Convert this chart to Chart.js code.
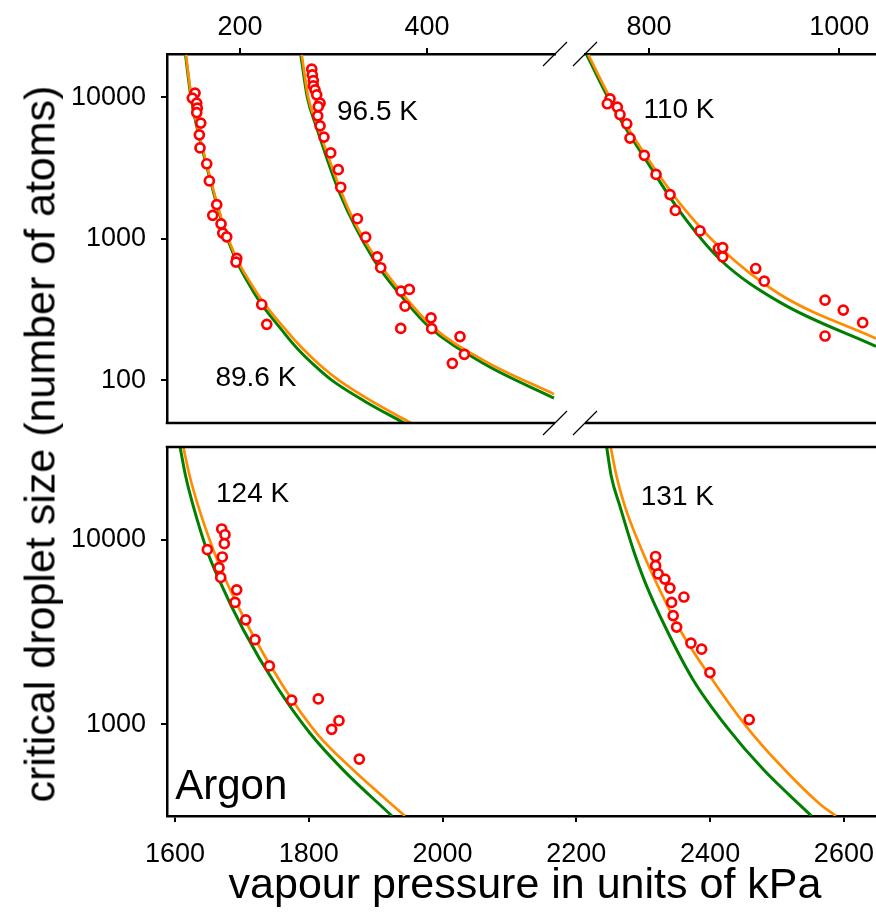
<!DOCTYPE html>
<html>
<head>
<meta charset="utf-8">
<script src="https://cdn.jsdelivr.net/npm/chart.js"></script>
<style>
  html, body { margin: 0; padding: 0; background: #fff; }
  #wrap { position: relative; width: 876px; height: 912px; overflow: hidden; font-family: 'Liberation Sans', Arial, sans-serif; }
  canvas { position: absolute; left: 0; }
  #topChart { top: 0; }
  #bottomChart { top: 430px; }
  .title { position: absolute; font-size: 43px; line-height: 43px; white-space: nowrap; color: #000; }
  #xTitle { left: 525px; top: 862px; transform: translateX(-50%); }
  #yTitle { left: 40px; top: 444px; transform: translate(-50%, -50%) rotate(-90deg); }
</style>
</head>
<body>
<div id="wrap">
  <canvas id="topChart" width="876" height="440"></canvas>
  <canvas id="bottomChart" width="876" height="482"></canvas>
  <div class="title" id="yTitle">critical droplet size (number of atoms)</div>
  <div class="title" id="xTitle">vapour pressure in units of kPa</div>
</div>
<script>
// measured points [pressure kPa, droplet size]
const p896 = [[151.9,10740],[149.0,9900],[153.7,9130],[154.3,8410],[153.7,7830],[158.0,6590],[156.5,5450],[157.2,4400],[164.4,3400],[167.2,2570],[175.1,1750],[170.8,1470],[179.7,1280],[181.5,1100],[185.8,1035],[196.5,728],[195.7,686],[223.2,344],[228.6,249]];
const p965 = [[276.7,15850],[277.3,14450],[278.4,13180],[278.4,12100],[280.2,11330],[282.0,10440],[285.6,9130],[283.7,8630],[283.1,7420],[285.6,6310],[289.8,5250],[297.0,4060],[305.1,3090],[307.7,2320],[325.5,1390],[334.4,1030],[346.8,748],[350.5,626],[372.2,428],[381.1,440],[376.5,335],[371.9,233],[404.3,277],[405.0,232],[435.3,204],[439.9,153],[427.1,132]];
const p110 = [[759.0,9790],[756.2,9030],[766.7,8560],[769.5,7580],[776.6,6520],[780.0,5170],[795.1,3900],[807.4,2860],[822.1,2060],[827.7,1590],[853.6,1140],[872.9,855],[877.5,869],[877.5,748],[912.2,618],[921.2,503],[985.1,369],[1004.3,314],[1024.7,256],[985.1,206]];
const p124 = [[1669.8,11430],[1674.7,10640],[1673.7,9510],[1648.3,8830],[1670.7,8060],[1665.8,7050],[1668.3,6240],[1692.2,5350],[1689.7,4570],[1705.7,3680],[1719.6,2870],[1741.0,2070],[1774.4,1350],[1814.2,1370],[1845.1,1045],[1834.2,938],[1875.5,647]];
const p131 = [[2318.5,8110],[2318.5,7230],[2322.4,6520],[2332.4,6120],[2339.9,5470],[2360.8,4890],[2342.4,4570],[2344.8,3880],[2349.9,3360],[2371.3,2750],[2387.3,2550],[2399.7,1905],[2458.4,1060]];

// model curves, green and orange
const g896 = [[141.7,20000],[147.6,10000],[162.6,3630],[186.6,1000],[215.0,417],[247.1,217],[262.0,166],[280.2,126.5],[298.4,100],[333.7,71],[375.4,50]];
const o896 = [[142.2,20000],[148.1,10000],[163.1,3630],[187.5,1000],[217.9,417],[251.7,217],[267.7,166],[286.6,126.5],[305.9,100],[341.2,71],[382.9,50]];
const g965 = [[265.0,20000],[272.0,10000],[281.6,6240],[306.6,2110],[343.0,716],[369.5,417],[401.4,242],[462.0,130],[535.8,75]];
const o965 = [[266.0,20000],[273.0,10000],[283.1,6240],[308.8,2110],[321.2,1370],[346.2,716],[372.9,417],[405.0,242],[462.0,137],[535.8,80]];
const g110 = [[734.5,20000],[762.1,8590],[797.9,3520],[832.6,1560],[874.7,716],[937.8,356],[1038.7,174]];
const o110 = [[736.2,20000],[762.5,9030],[797.6,3790],[832.6,1780],[874.7,869],[937.8,405],[1038.7,198]];
const g124 = [[1607.5,31840],[1615.9,22080],[1627.4,15170],[1647.4,8830],[1665.8,6070],[1702.1,3250],[1752.0,1600],[1801.8,893],[1851.6,564],[1924.4,318]];
const o124 = [[1612.4,31840],[1622.0,22080],[1634.8,15170],[1657.2,8830],[1675.5,6070],[1712.1,3250],[1761.9,1600],[1811.8,893],[1866.5,564],[1943.8,318]];
const g131 = [[2245.3,31840],[2252.2,22080],[2265.2,15170],[2285.1,8830],[2303.3,5820],[2335.0,3250],[2374.7,1738],[2424.7,968],[2480.4,564],[2551.7,318]];
const o131 = [[2251.3,31840],[2260.1,22080],[2272.6,15170],[2297.6,8830],[2317.5,6070],[2354.9,3250],[2396.7,1888],[2454.6,968],[2502.2,614],[2563.1,372],[2588.0,318]];

// ticks
const topTicksL = [200, 400];
const topTicksR = [800, 1000];
const yTicksTop = [100, 1000, 10000];
const bottomTicks = [1600, 1800, 2000, 2200, 2400, 2600];
const yTicksBottom = [1000, 10000];

// temperature labels (data coords)
const topLabels = [
  { text: '89.6 K', axis: 'xL', x: 217, y: 103, size: 28 },
  { text: '96.5 K', axis: 'xL', x: 347, y: 7800, size: 28 },
  { text: '110 K', axis: 'xR', x: 831.5, y: 8150, size: 28 },
];
const bottomLabels = [
  { text: '124 K', axis: 'x', x: 1716, y: 17620, size: 28 },
  { text: '131 K', axis: 'x', x: 2351, y: 16900, size: 28 },
  { text: 'Argon', axis: 'x', x: 1684, y: 456, size: 42 },
];

Chart.defaults.font.family = "'Liberation Sans', Arial, sans-serif";
Chart.defaults.color = '#000';

const GREEN = '#007f00';
const ORANGE = '#ff8c00';
const RED = '#ff0000';

const pts = arr => arr.map(([x, y]) => ({ x, y }));

function curve(data, color, width, xAxisID, order) {
  return {
    data: pts(data), xAxisID, yAxisID: 'y',
    borderColor: color, borderWidth: width,
    pointRadius: 0, cubicInterpolationMode: 'monotone', fill: false, order
  };
}
function dots(data, xAxisID) {
  return {
    data: pts(data), xAxisID, yAxisID: 'y', showLine: false,
    pointRadius: 4.5, pointBorderWidth: 2.7, pointBorderColor: RED,
    pointBackgroundColor: '#fff', order: 0
  };
}

const setTicks = values => scale => { scale.ticks = values.map(v => ({ value: v })); };
// fixed axis sizes, and no extra room for the end labels
const fitX = h => s => { s.height = h; s.paddingLeft = 0; s.paddingRight = 0; };
const fitY = w => s => { s.width = w; s.paddingTop = 0; s.paddingBottom = 0; };
const axisBorder = { display: true, color: '#000', width: 2.5 };
const tickMarks = { display: true, drawOnChartArea: false, drawTicks: true, tickLength: 6, color: '#000', lineWidth: 2 };
const plain = v => String(v);
const tickFont = { size: 27 };

const labelPlugin = {
  id: 'tempLabels',
  afterDatasetsDraw(chart, args, opts) {
    const { ctx } = chart;
    ctx.save();
    ctx.fillStyle = '#000';
    ctx.textAlign = 'center';
    ctx.textBaseline = 'middle';
    for (const l of opts.items) {
      ctx.font = l.size + "px 'Liberation Sans', Arial, sans-serif";
      ctx.fillText(l.text, chart.scales[l.axis].getPixelForValue(l.x), chart.scales.y.getPixelForValue(l.y));
    }
    ctx.restore();
  }
};

// bottom edge + break marks of the upper panel
const breakFrame = {
  id: 'breakFrame',
  afterDraw(chart) {
    const { ctx, chartArea: a, scales: { xL, xR } } = chart;
    ctx.save();
    ctx.strokeStyle = '#000';
    ctx.lineWidth = 2.5;
    ctx.beginPath();
    ctx.moveTo(a.left - 1.25, a.bottom); ctx.lineTo(xL.right, a.bottom);
    ctx.moveTo(xR.left, a.bottom); ctx.lineTo(a.right, a.bottom);
    ctx.stroke();
    ctx.lineWidth = 1.2;
    ctx.beginPath();
    for (const y of [a.top, a.bottom]) {
      for (const x of [xL.right, xR.left]) {
        ctx.moveTo(x - 12, y + 12);
        ctx.lineTo(x + 12, y - 12);
      }
    }
    ctx.stroke();
    ctx.restore();
  }
};

const topEdge = {
  id: 'topEdge',
  afterDraw(chart) {
    const { ctx, chartArea: a } = chart;
    ctx.save();
    ctx.strokeStyle = '#000';
    ctx.lineWidth = 2.5;
    ctx.beginPath();
    ctx.moveTo(a.left - 1.25, a.top);
    ctx.lineTo(a.right, a.top);
    ctx.stroke();
    ctx.restore();
  }
};

new Chart(document.getElementById('topChart'), {
  type: 'line',
  data: {
    datasets: [
      dots(p896, 'xL'), dots(p965, 'xL'), dots(p110, 'xR'),
      curve(o896, ORANGE, 2.7, 'xL', 1), curve(o965, ORANGE, 2.7, 'xL', 1), curve(o110, ORANGE, 2.7, 'xR', 1),
      curve(g896, GREEN, 3, 'xL', 2), curve(g965, GREEN, 3, 'xL', 2), curve(g110, GREEN, 3, 'xR', 2),
    ]
  },
  options: {
    responsive: false,
    animation: false,
    events: [],
    layout: { autoPadding: false, padding: { left: 0, right: 0, top: 0, bottom: 17 } },
    plugins: { legend: { display: false }, tooltip: { enabled: false }, tempLabels: { items: topLabels } },
    scales: {
      // top boxes are laid out in reverse order, so the right part comes first
      xR: {
        type: 'linear', position: 'top', stack: 'top', stackWeight: 291,
        min: 732.7, max: 1038.7,
        afterBuildTicks: setTicks(topTicksR),
        afterFit: fitX(54),
        border: axisBorder, grid: tickMarks,
        ticks: { font: tickFont, padding: 4, maxRotation: 0, callback: plain }
      },
      xGap: {
        type: 'linear', position: 'top', stack: 'top', stackWeight: 30,
        min: 0, max: 1,
        afterFit: fitX(54),
        border: { display: false }, grid: { display: false }, ticks: { display: false }
      },
      xL: {
        type: 'linear', position: 'top', stack: 'top', stackWeight: 388,
        min: 121.9, max: 536.9,
        afterBuildTicks: setTicks(topTicksL),
        afterFit: fitX(54),
        border: axisBorder, grid: tickMarks,
        ticks: { font: tickFont, padding: 4, maxRotation: 0, callback: plain }
      },
      y: {
        type: 'logarithmic', position: 'left',
        min: 50, max: 20300,
        afterBuildTicks: setTicks(yTicksTop),
        afterFit: fitY(167),
        border: axisBorder, grid: tickMarks,
        ticks: { font: tickFont, padding: 15, callback: plain }
      }
    }
  },
  plugins: [labelPlugin, breakFrame]
});

new Chart(document.getElementById('bottomChart'), {
  type: 'line',
  data: {
    datasets: [
      dots(p124, 'x'), dots(p131, 'x'),
      curve(o124, ORANGE, 2.7, 'x', 1), curve(o131, ORANGE, 2.7, 'x', 1),
      curve(g124, GREEN, 3, 'x', 2), curve(g131, GREEN, 3, 'x', 2),
    ]
  },
  options: {
    responsive: false,
    animation: false,
    events: [],
    layout: { autoPadding: false, padding: { left: 0, right: 0, top: 17, bottom: 0 } },
    plugins: { legend: { display: false }, tooltip: { enabled: false }, tempLabels: { items: bottomLabels } },
    scales: {
      x: {
        type: 'linear', position: 'bottom',
        min: 1588, max: 2648,
        afterBuildTicks: setTicks(bottomTicks),
        afterFit: fitX(96),
        border: axisBorder, grid: tickMarks,
        ticks: { font: tickFont, padding: 16, maxRotation: 0, callback: plain }
      },
      y: {
        type: 'logarithmic', position: 'left',
        min: 318, max: 31800,
        afterBuildTicks: setTicks(yTicksBottom),
        afterFit: fitY(167),
        border: axisBorder, grid: tickMarks,
        ticks: { font: tickFont, padding: 15, callback: plain }
      }
    }
  },
  plugins: [labelPlugin, topEdge]
});
</script>
</body>
</html>
